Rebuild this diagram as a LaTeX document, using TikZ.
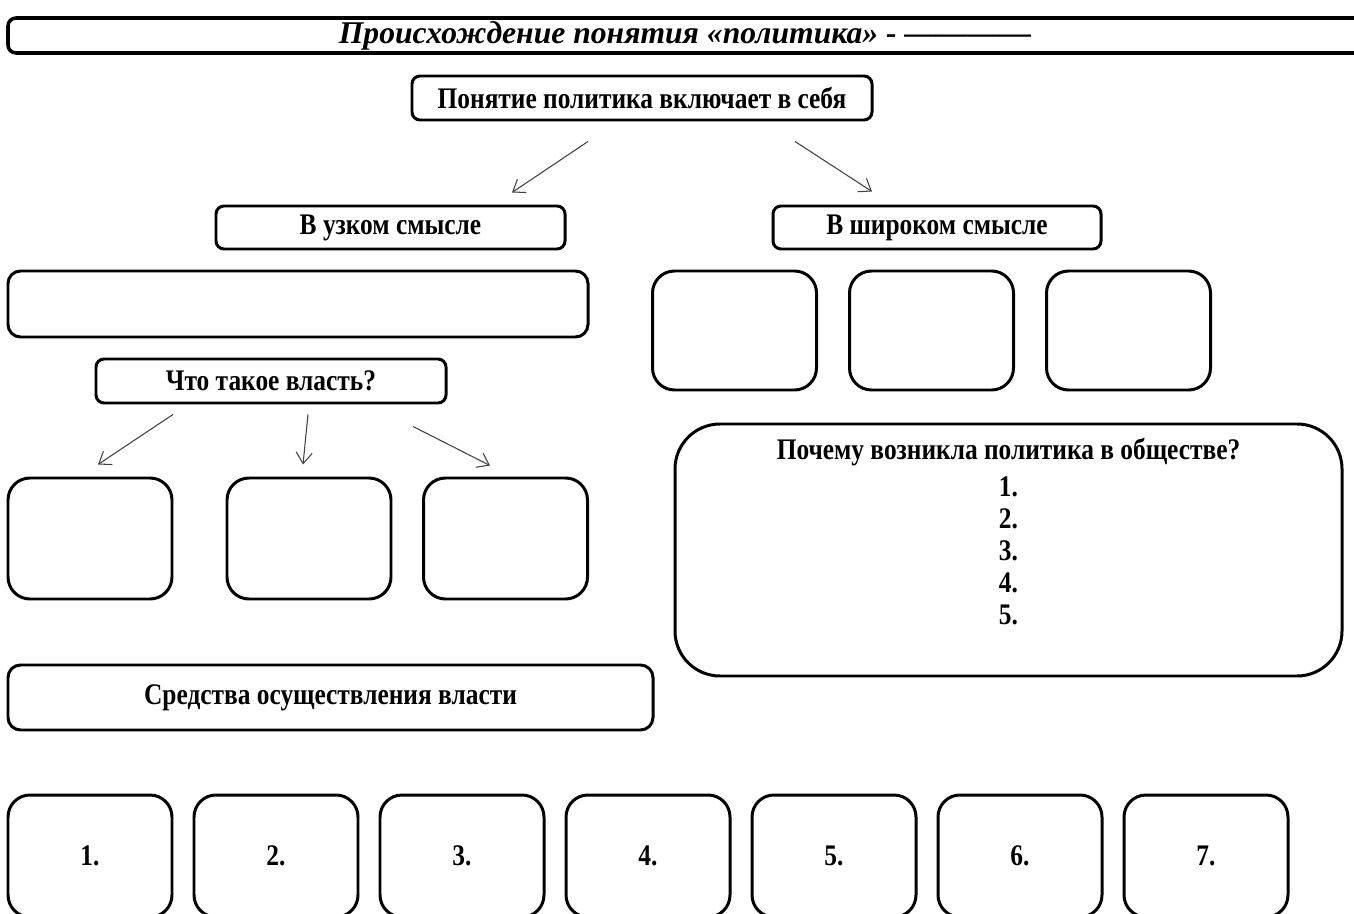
\documentclass[tikz,border=0pt]{standalone}
\usepackage{fontspec}
\setmainfont{Liberation Serif}
\newfontfamily\boxfont[FakeStretch=0.85]{Liberation Serif}
\usetikzlibrary{arrows.meta}

\begin{document}
\begin{tikzpicture}[
    box/.style = {draw, line width=1.7pt, rounded corners=0.16cm, inner sep=0pt, font=\boxfont\fontsize{17}{20}\selectfont\bfseries},
    sq/.style = {box, rounded corners=0.44cm, minimum width=3.28cm, minimum height=2.4cm},
    arr/.style = {draw=black!75, line width=0.6pt, -{Straight Barb[length=2.2mm,width=3.2mm]}}
]
    \useasboundingbox (0,0) rectangle (27.08,-18.28);
    \node[box, line width=2pt, minimum width=27.08cm, minimum height=0.7cm, font=\fontsize{18}{20}\selectfont\bfseries\itshape] (title) at (13.7,-0.71) {Происхождение понятия «политика» - ————};
    \node[box, minimum width=9.2cm, minimum height=0.88cm] (incl) at (12.84,-1.96) {Понятие политика включает в себя};
    \node[box, minimum width=6.98cm, minimum height=0.86cm] (narrow) at (7.81,-4.55) {В узком смысле};
    \node[box, minimum width=6.56cm, minimum height=0.86cm] (wide) at (18.74,-4.55) {В широком смысле};
    \node[box, rounded corners=0.25cm, minimum width=11.6cm, minimum height=1.32cm] (blank) at (5.96,-6.08) {};
    \foreach \i in {1,2,3}
        \node[sq, minimum height=2.38cm] (w\i) at ({14.69+3.94*(\i-1)},-6.61) {};
    \node[box, minimum width=7cm, minimum height=0.88cm] (power) at (5.42,-7.62) {Что такое власть?};
    \foreach \i/\x in {1/1.8,2/6.18,3/10.11}
        \node[sq, minimum height=2.42cm] (p\i) at (\x,-10.77) {};
    \node[box, rounded corners=0.9cm, minimum width=13.34cm, minimum height=5.04cm] (why) at (20.17,-11) {};
    \node[anchor=north, align=center, inner sep=0pt, font=\boxfont\fontsize{17}{18.2}\selectfont\bfseries] (whytext) at ([yshift=-0.3cm]why.north) {Почему возникла политика в обществе?\\[3pt] 1.\\ 2.\\ 3.\\ 4.\\ 5.};
    \node[box, rounded corners=0.25cm, minimum width=12.9cm, minimum height=1.3cm] (means) at (6.61,-13.95) {Средства осуществления власти};
    \foreach \i in {1,...,7}
        \node[sq, minimum height=2.44cm] (b\i) at ({1.8+3.72*(\i-1)},-17.12) {\i.};

    \draw[arr] ([xshift=-1.08cm,yshift=-0.4cm]incl.south) -- ([xshift=2.43cm,yshift=0.24cm]narrow.north);
    \draw[arr] ([xshift=3.06cm,yshift=-0.4cm]incl.south) -- ([xshift=-1.3cm,yshift=0.26cm]wide.north);
    \draw[arr] ([xshift=-1.96cm,yshift=-0.2cm]power.south) -- ([xshift=0.16cm,yshift=0.24cm]p1.north);
    \draw[arr] ([xshift=0.74cm,yshift=-0.2cm]power.south) -- ([xshift=-0.12cm,yshift=0.24cm]p2.north);
    \draw[arr] ([xshift=2.84cm,yshift=-0.44cm]power.south) -- ([xshift=-0.31cm,yshift=0.22cm]p3.north);
\end{tikzpicture}
\end{document}
